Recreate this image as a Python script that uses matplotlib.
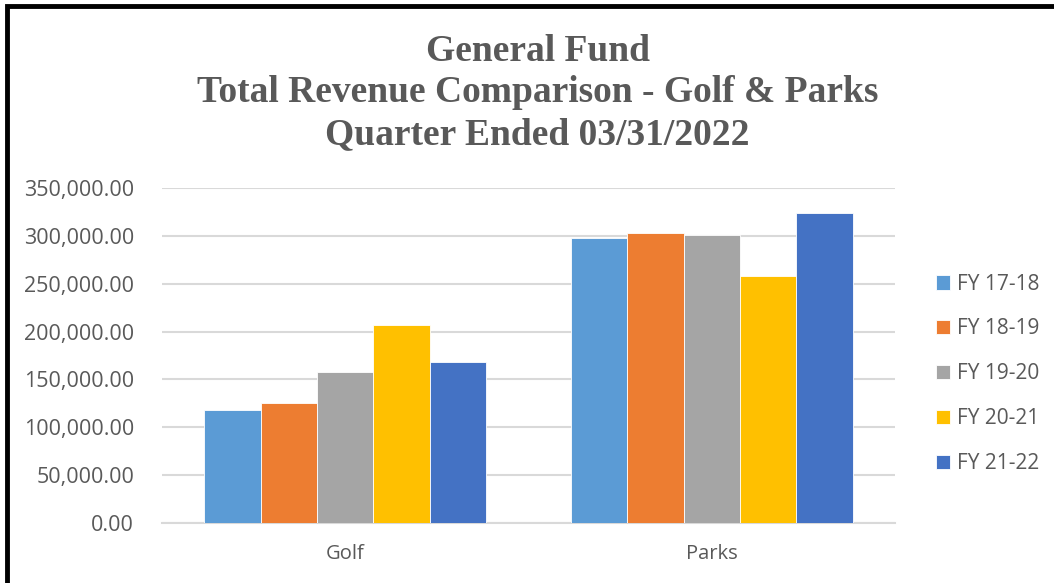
import matplotlib.pyplot as plt
from matplotlib.patches import Rectangle
from matplotlib.ticker import FuncFormatter
import numpy as np

categories = ['Golf', 'Parks']
series = ['FY 17-18', 'FY 18-19', 'FY 19-20', 'FY 20-21', 'FY 21-22']
values = [
    [118000, 297500],
    [125500, 302700],
    [158000, 301000],
    [207000, 258000],
    [168000, 323600],
]
colors = ['#5B9BD5', '#ED7D31', '#A5A5A5', '#FFC000', '#4472C4']

plt.rcParams['font.family'] = ['Open Sans', 'DejaVu Sans']
grey = '#595959'

fig = plt.figure(figsize=(10.54, 5.83), dpi=100)
ax = fig.add_axes([162 / 1054, 1 - 523 / 583, 733 / 1054, 335 / 583])

x = np.arange(len(categories))
w = 0.154
for i, name in enumerate(series):
    ax.bar(x + (i - 2) * w, values[i], w, color=colors[i], label=name,
           edgecolor='white', linewidth=0.6, zorder=3)

ax.set_xlim(-0.5, 1.5)
ax.set_ylim(0, 350000)
ax.set_yticks(np.arange(0, 350001, 50000))
ax.yaxis.set_major_formatter(FuncFormatter(lambda v, p: f'{v:,.2f}'))
ax.set_xticks(x)
ax.set_xticklabels(categories)
ax.grid(axis='y', color='#d9d9d9', linewidth=1.5, zorder=0)
for s in ['top', 'right', 'left']:
    ax.spines[s].set_visible(False)
ax.spines['bottom'].set_color('#d9d9d9')
ax.spines['bottom'].set_linewidth(1.5)
ax.tick_params(length=0, colors=grey)
ax.tick_params(axis='y', pad=20, labelsize=15.5)
ax.tick_params(axis='x', pad=15, labelsize=14.5)

ax.legend(loc='center left', bbox_to_anchor=(1.03, 0.445), frameon=False,
          fontsize=15, labelcolor=grey, handlelength=0.7, handleheight=0.7,
          handletextpad=0.3, labelspacing=1.15)

fig.text(0.51, 1 - 93 / 583, 'General Fund\nTotal Revenue Comparison - Golf & Parks\nQuarter Ended 03/31/2022',
         ha='center', va='center', family='Liberation Serif', fontweight='bold',
         fontsize=27, color=grey, linespacing=1.24)

fig.patches.append(Rectangle((7 / 1054, -0.05), 1.1, 1 - 6 / 583 + 0.05, transform=fig.transFigure,
                             fill=False, edgecolor='black', linewidth=3.5))

fig.savefig('out.png', dpi=100)
